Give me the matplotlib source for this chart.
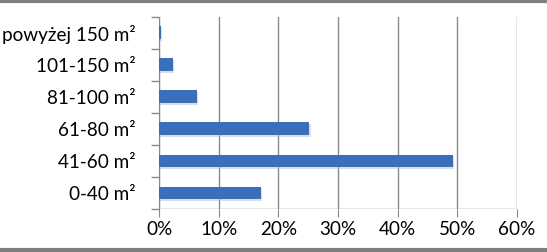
import matplotlib.pyplot as plt
import matplotlib.patheffects as pe
from matplotlib.lines import Line2D
from matplotlib.ticker import FuncFormatter, MultipleLocator

categories = ['0-40 m²', '41-60 m²', '61-80 m²', '81-100 m²', '101-150 m²', 'powyżej 150 m²']
values = [17.1, 49.2, 25.2, 6.3, 2.3, 0.3]

plt.rcParams['font.family'] = ['Lato', 'DejaVu Sans']

fig = plt.figure(figsize=(5.47, 2.52), dpi=100)
ax = fig.add_axes([0.291, 0.171, 0.654, 0.762])

bars = ax.barh(range(len(categories)), values, height=0.4, color='#3b6fbb', zorder=3)
for b in bars:
    b.set_path_effects([pe.SimplePatchShadow(offset=(0.8, -1.2), shadow_rgbFace='#b8c0cc', alpha=0.5), pe.Normal()])

ax.set_xlim(0, 60)
ax.set_ylim(-0.5, len(categories) - 0.5)
ax.xaxis.set_major_locator(MultipleLocator(10))
ax.xaxis.set_major_formatter(FuncFormatter(lambda v, p: f'{v:.0f}%'))
ax.set_yticks(range(len(categories)))
ax.set_yticklabels(categories)
ax.set_yticks([i - 0.5 for i in range(len(categories) + 1)], minor=True)
ax.tick_params(axis='y', which='major', length=0, pad=17, labelsize=13.6)
ax.tick_params(axis='y', which='minor', length=6, color='#888888', width=1)
ax.tick_params(axis='x', length=6, color='#888888', labelsize=13.6, pad=3)

ax.grid(axis='x', color='#8a8a8a', linewidth=1, zorder=0)
for s in ['top', 'right', 'bottom']:
    ax.spines[s].set_visible(False)
ax.spines['left'].set_color('#888888')
ax.axhline(-0.5, color='#888888', linewidth=1, zorder=1)

fig.add_artist(Line2D([0, 1], [0.996, 0.996], transform=fig.transFigure, color='#7f7f7f', linewidth=3))
fig.add_artist(Line2D([0, 1], [0.006, 0.006], transform=fig.transFigure, color='#7f7f7f', linewidth=3))

fig.savefig('out.png', dpi=100)
